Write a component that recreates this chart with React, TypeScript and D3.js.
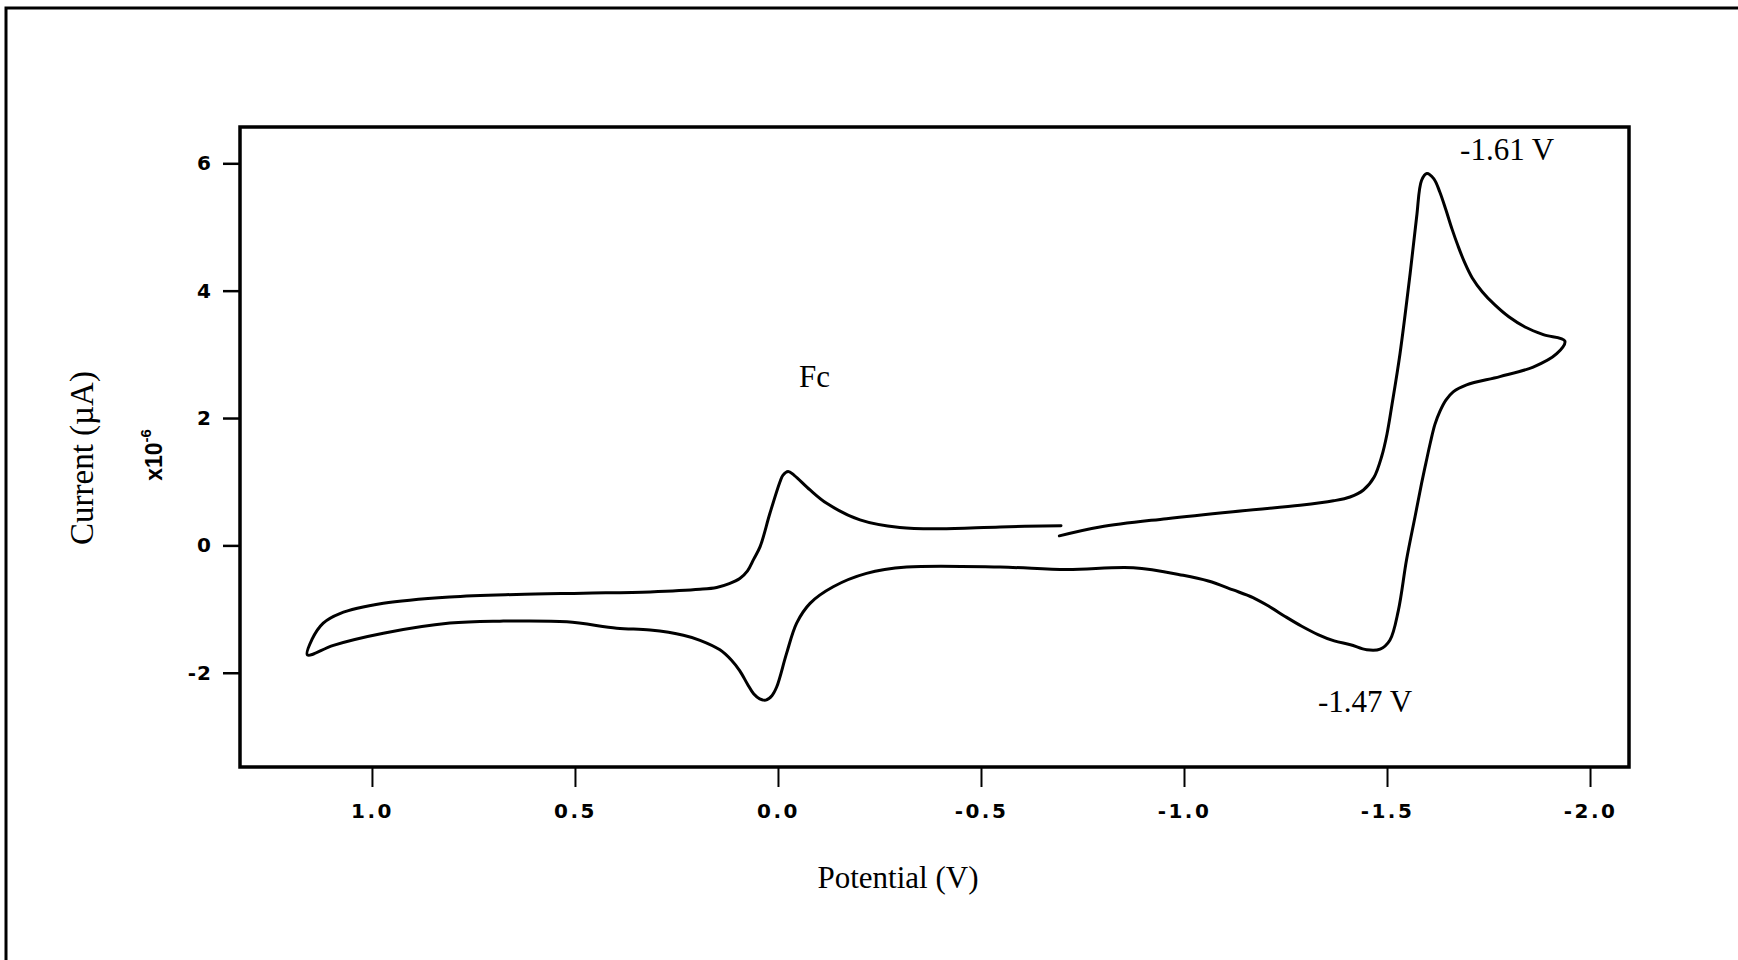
import { useEffect, useRef } from "react";
import * as d3 from "d3";

// Barrido 1: desde -0.7 V hacia potenciales negativos (rama superior)
const potencialIda = [
  -0.693, -0.793, -0.957, -1.121, -1.286, -1.368, -1.409, -1.442, -1.468, -1.487, -1.5, -1.512,
  -1.532, -1.557, -1.573, -1.585, -1.598, -1.615, -1.63, -1.645, -1.66, -1.675, -1.69, -1.71,
  -1.735, -1.765, -1.8, -1.84, -1.885, -1.938,
];
const corrienteIda = [
  0.15, 0.29, 0.42, 0.53, 0.63, 0.7, 0.76, 0.87, 1.07, 1.4, 1.75, 2.2, 3.01, 4.27, 5.16, 5.73, 5.84,
  5.76, 5.55, 5.27, 4.97, 4.7, 4.46, 4.2, 3.98, 3.78, 3.59, 3.43, 3.31, 3.21,
];

// Barrido 2: de vuelta hasta +1.16 V (rama inferior)
const potencialVuelta = [
  -1.918, -1.86, -1.778, -1.696, -1.663, -1.645, -1.63, -1.618, -1.607, -1.596, -1.585, -1.569,
  -1.548, -1.528, -1.507, -1.483, -1.45, -1.41, -1.37, -1.33, -1.29, -1.25, -1.21, -1.17, -1.121,
  -1.06, -0.998, -0.875, -0.711, -0.547, -0.317, -0.218, -0.136, -0.079, -0.046, -0.021, 0.003,
  0.015, 0.03, 0.045, 0.06, 0.075, 0.094, 0.115, 0.143, 0.192, 0.233, 0.315, 0.397, 0.52, 0.685,
  0.808, 0.972, 1.095, 1.159,
];
const corrienteVuelta = [
  3.01, 2.8, 2.65, 2.52, 2.41, 2.28, 2.1, 1.9, 1.62, 1.3, 0.97, 0.45, -0.23, -1.02, -1.49, -1.63,
  -1.64, -1.56, -1.5, -1.4, -1.27, -1.12, -0.96, -0.82, -0.7, -0.56, -0.47, -0.35, -0.38, -0.34,
  -0.34, -0.44, -0.65, -0.91, -1.22, -1.7, -2.22, -2.36, -2.43, -2.41, -2.33, -2.18, -1.97, -1.8,
  -1.64, -1.49, -1.41, -1.33, -1.3, -1.2, -1.19, -1.22, -1.38, -1.57, -1.72,
];

// Barrido 3: desde +1.16 V otra vez hasta -0.7 V
const potencialRetorno = [
  1.148, 1.12, 1.079, 0.972, 0.808, 0.644, 0.48, 0.315, 0.192, 0.151, 0.12, 0.094, 0.075, 0.06,
  0.044, 0.02, -0.005, -0.012, -0.025, -0.04, -0.079, -0.12, -0.202, -0.3, -0.399, -0.547, -0.697,
];
const corrienteRetorno = [
  -1.48, -1.22, -1.07, -0.91, -0.81, -0.77, -0.75, -0.73, -0.69, -0.66, -0.6, -0.52, -0.4, -0.22,
  -0.02, 0.5, 1.0, 1.1, 1.16, 1.1, 0.87, 0.66, 0.4, 0.28, 0.26, 0.29, 0.31,
];

const ticksPotencial = [1.0, 0.5, 0.0, -0.5, -1.0, -1.5, -2.0];
const ticksCorriente = [-2, 0, 2, 4, 6];

const anotaciones = [
  { texto: "-1.61 V", v: -1.68, i: 6.05 },
  { texto: "-1.47 V", v: -1.33, i: -2.61 },
  { texto: "Fc", v: -0.052, i: 2.48 },
];

const SERIF = "'Liberation Serif', 'Times New Roman', serif";
const SANS = "'Liberation Sans', Arial, sans-serif";
const SANS_ANCHA = "'DejaVu Sans', Verdana, sans-serif";

export default function App() {
  const svgRef = useRef<SVGSVGElement>(null);
  const ANCHO = 1738;
  const ALTO = 960;

  useEffect(() => {
    if (!svgRef.current) return;
    const svg = d3.select(svgRef.current);
    svg.selectAll("*").remove();

    const caja = { left: 240, top: 127, right: 1629, bottom: 767 };

    const x = d3.scaleLinear().domain([1.325, -2.096]).range([caja.left, caja.right]);
    const y = d3.scaleLinear().domain([-3.48, 6.57]).range([caja.bottom, caja.top]);

    // Marco exterior de la figura (solo se ven el lado izquierdo y el de arriba)
    svg
      .append("path")
      .attr("d", `M6,${ALTO + 10} V8 H${ANCHO + 10}`)
      .attr("fill", "none")
      .attr("stroke", "#000")
      .attr("stroke-width", 3);

    const ejeX = svg
      .append("g")
      .attr("transform", `translate(0,${caja.bottom})`)
      .call(
        d3
          .axisBottom(x)
          .tickValues(ticksPotencial)
          .tickSize(20)
          .tickPadding(17)
          .tickFormat((d) => (+d).toFixed(1))
      );
    ejeX.select(".domain").remove();
    ejeX.selectAll("line").attr("stroke", "#000").attr("stroke-width", 2);
    ejeX
      .selectAll("text")
      .attr("fill", "#000")
      .attr("font-family", SANS_ANCHA)
      .attr("font-weight", 700)
      .attr("font-size", 20)
      .attr("letter-spacing", 2.5);

    const ejeY = svg
      .append("g")
      .attr("transform", `translate(${caja.left},0)`)
      .call(d3.axisLeft(y).tickValues(ticksCorriente).tickSize(17).tickPadding(11).tickFormat((d) => String(d)));
    ejeY.select(".domain").remove();
    ejeY.selectAll("line").attr("stroke", "#000").attr("stroke-width", 2.5);
    ejeY
      .selectAll("text")
      .attr("fill", "#000")
      .attr("font-family", SANS_ANCHA)
      .attr("font-weight", 700)
      .attr("font-size", 20)
      .attr("letter-spacing", 1);

    svg
      .append("rect")
      .attr("x", caja.left)
      .attr("y", caja.top)
      .attr("width", caja.right - caja.left)
      .attr("height", caja.bottom - caja.top)
      .attr("fill", "none")
      .attr("stroke", "#000")
      .attr("stroke-width", 3.5);

    const puntos: [number, number][] = [
      ...potencialIda.map((v, k) => [v, corrienteIda[k]] as [number, number]),
      ...potencialVuelta.map((v, k) => [v, corrienteVuelta[k]] as [number, number]),
      ...potencialRetorno.map((v, k) => [v, corrienteRetorno[k]] as [number, number]),
    ];

    const linea = d3
      .line<[number, number]>()
      .x((d) => x(d[0]))
      .y((d) => y(d[1]))
      .curve(d3.curveCatmullRom.alpha(0.5));

    svg
      .append("path")
      .datum(puntos)
      .attr("d", linea)
      .attr("fill", "none")
      .attr("stroke", "#000")
      .attr("stroke-width", 3)
      .attr("stroke-linejoin", "round")
      .attr("stroke-linecap", "round");

    svg
      .selectAll("text.anotacion")
      .data(anotaciones)
      .enter()
      .append("text")
      .attr("class", "anotacion")
      .attr("x", (d) => x(d.v))
      .attr("y", (d) => y(d.i))
      .attr("font-family", SERIF)
      .attr("font-size", 31)
      .attr("fill", "#000")
      .text((d) => d.texto);

    svg
      .append("text")
      .attr("x", 898)
      .attr("y", 888)
      .attr("text-anchor", "middle")
      .attr("font-family", SERIF)
      .attr("font-size", 31)
      .attr("fill", "#000")
      .text("Potential (V)");

    svg
      .append("text")
      .attr("transform", `translate(93,458) rotate(-90)`)
      .attr("text-anchor", "middle")
      .attr("font-family", SERIF)
      .attr("font-size", 33)
      .attr("fill", "#000")
      .text("Current (\u00b5A)");

    const escala = svg
      .append("text")
      .attr("transform", `translate(162,455) rotate(-90)`)
      .attr("text-anchor", "middle")
      .attr("font-family", SANS)
      .attr("font-weight", 700)
      .attr("font-size", 23)
      .attr("fill", "#000");
    escala.append("tspan").text("x10");
    escala.append("tspan").attr("dy", -11).attr("font-size", 15).text("-6");
  }, []);

  return (
    <svg
      ref={svgRef}
      width={ANCHO}
      height={ALTO}
      viewBox={`0 0 ${ANCHO} ${ALTO}`}
      style={{ position: "absolute", left: 0, top: 0, background: "#fff" }}
    />
  );
}
